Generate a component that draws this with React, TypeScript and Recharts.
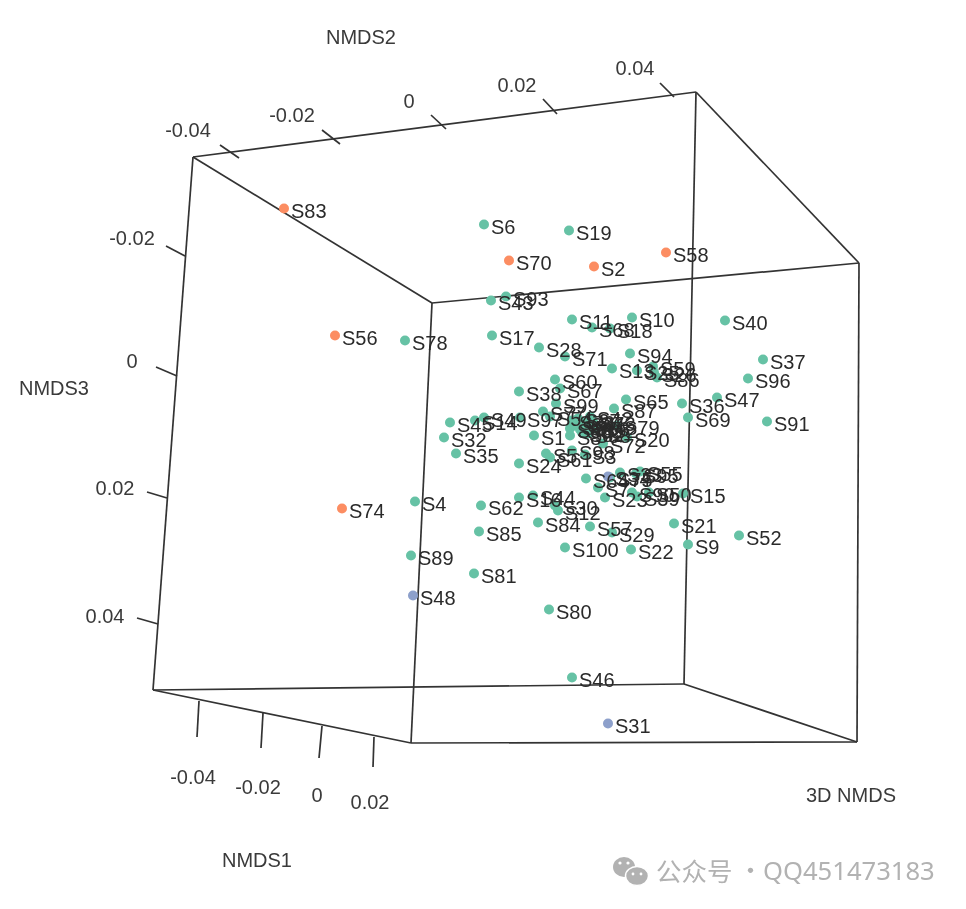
import { ScatterChart, Scatter, XAxis, YAxis, ReferenceLine } from 'recharts';

// projected positions of the 3D NMDS ordination
const TEAL_NAMES = ['S6','S19','S43','S93','S11','S10','S68','S18','S40','S17','S78','S28','S71','S94','S13','S25','S59','S26','S86','S37','S96','S60','S38','S67','S47','S65','S36','S87','S69','S91','S45','S14','S49','S97','S32','S35','S1','S24','S20','S79','S72','S99','S77','S54','S53','S8','S5','S61','S98','S3','S64','S7','S23','S33','S55','S95','S90','S39','S50','S15','S4','S62','S16','S44','S30','S12','S84','S85','S57','S29','S100','S22','S21','S9','S52','S89','S81','S80','S46','S27','S41','S42','S51','S63','S66','S73','S76','S82','S88','S92','S75'];
const TEAL_X = [484,569,491,506,572,632,592,610,725,492,405,539,565,630,612,637,653,654,657,763,748,555,519,560,717,626,682,614,688,767,450,475,484,520,444,456,534,519,627,617,603,556,543,550,570,570,546,550,572,585,586,598,605,620,640,636,632,637,649,683,415,481,519,533,555,558,538,479,590,612,565,631,674,688,739,411,474,549,572,578,584,590,575,580,587,593,572,582,588,595,610];
const TEAL_Y = [224,230,300,296,319,317,327,328,320,335,340,347,356,353,368,370,366,372,377,359,378,379,391,388,397,399,403,408,417,421,422,420,417,417,437,453,435,463,437,425,443,403,411,416,428,435,453,457,450,454,478,487,497,472,471,473,492,496,492,493,501,505,497,495,505,510,522,531,526,532,547,549,523,544,535,555,573,609,677,418,422,416,425,429,426,421,420,432,433,428,477];

const ORANGE_NAMES = ['S83','S70','S2','S58','S56','S74'];
const ORANGE_X = [284,509,594,666,335,342];
const ORANGE_Y = [208,260,266,252,335,508];

const BLUE_NAMES = ['S48','S31','S34'];
const BLUE_X = [413,608,608];
const BLUE_Y = [595,723,476];

const BOX_CORNERS: Record<string, [number, number]> = {
  A: [193,157], B: [696,92], C: [859,263], D: [432,303],
  E: [153,690], F: [411,743], G: [857,742], H: [684,684],
};
const BOX_EDGES = ['AB','AD','BC','DC','AE','DF','CG','BH','EF','FG','HG','EH'];

const TICK_SEGMENTS = [
  [220,145,239,158],[322,130,340,144],[431,115,446,129],[543,99,557,114],[660,83,674,97],
  [166,246,185,256],[156,367,177,376],[147,492,167,498],[137,618,158,624],
  [199,701,197,737],[263,713,261,748],[322,726,319,758],[374,737,373,767],
];
const AXIS_TEXT = ['-0.04','-0.02','0','0.02','0.04','-0.02','0','0.02','0.04','-0.04','-0.02','0','0.02','NMDS1','NMDS2','NMDS3','3D NMDS'];
const AXIS_TEXT_X = [188,292,409,517,635,132,132,115,105,193,258,317,370,257,361,54,851];
const AXIS_TEXT_Y = [130,115,101,85,68,238,361,488,616,777,787,795,802,860,37,388,795];

const toPoints = (names: string[], xs: number[], ys: number[]) =>
  names.map((name, i) => ({ name, x: xs[i], y: ys[i] }));

const teal = toPoints(TEAL_NAMES, TEAL_X, TEAL_Y);
const orange = toPoints(ORANGE_NAMES, ORANGE_X, ORANGE_Y);
const blue = toPoints(BLUE_NAMES, BLUE_X, BLUE_Y);
const axisText = toPoints(AXIS_TEXT, AXIS_TEXT_X, AXIS_TEXT_Y);

const FONT = '"Liberation Sans", Arial, sans-serif';
const LINE = '#333';

const dot = (fill: string) => (props: any) => (
  <circle cx={props.cx} cy={props.cy + 0.5} r={5} fill={fill} />
);

const PointLabel = (props: any) => (
  <text x={props.cx + 7} y={props.cy + 10} fontSize={20} fontFamily={FONT} fill="#2a2a2a">
    {props.payload.name}
  </text>
);

const AxisLabel = (props: any) => (
  <text x={props.cx} y={props.cy + 7} fontSize={20} fontFamily={FONT} fill="#3a3a3a" textAnchor="middle">
    {props.payload.name}
  </text>
);

function Watermark() {
  return (
    <svg width={966} height={909} style={{ position: 'absolute', left: 0, top: 0 }}>
      <ellipse cx={624} cy={867} rx={11} ry={10} fill="#b2b2b2" />
      <ellipse cx={637} cy={876} rx={11.5} ry={9.5} fill="#b2b2b2" stroke="#fff" strokeWidth={1.5} />
      <circle cx={620} cy={863} r={1.6} fill="#fff" />
      <circle cx={628} cy={863} r={1.6} fill="#fff" />
      <circle cx={633} cy={874} r={1.4} fill="#fff" />
      <circle cx={641} cy={874} r={1.4} fill="#fff" />
      <text x={656} y={881} fontSize={25.5} fontFamily='"Noto Sans CJK SC"' fill="#b2b2b2">公众号</text>
      <text x={738} y={880} fontSize={25} fontFamily='"Noto Sans CJK SC"' fill="#b2b2b2">·</text>
      <text x={763} y={880} fontSize={25.6} fontFamily='"Noto Sans", sans-serif' fill="#b2b2b2">QQ451473183</text>
    </svg>
  );
}

export default function App() {
  return (
    <div style={{ position: 'absolute', left: 0, top: 0, width: 966, height: 909, background: '#fff', filter: 'blur(0.35px)' }}>
      <ScatterChart width={966} height={909} margin={{ top: 0, right: 0, bottom: 0, left: 0 }}>
        <XAxis type="number" dataKey="x" domain={[0, 966]} hide />
        <YAxis type="number" dataKey="y" domain={[0, 909]} reversed hide />
        {BOX_EDGES.map((edge) => {
          const a = BOX_CORNERS[edge[0]];
          const b = BOX_CORNERS[edge[1]];
          return (
            <ReferenceLine
              key={edge}
              segment={[{ x: a[0], y: a[1] }, { x: b[0], y: b[1] }]}
              stroke={LINE}
              strokeWidth={1.7}
            />
          );
        })}
        {TICK_SEGMENTS.map((t, i) => (
          <ReferenceLine
            key={`tick-${i}`}
            segment={[{ x: t[0], y: t[1] }, { x: t[2], y: t[3] }]}
            stroke={LINE}
            strokeWidth={1.7}
          />
        ))}
        <Scatter data={teal} shape={dot('#66c2a5')} isAnimationActive={false} />
        <Scatter data={orange} shape={dot('#fc8d62')} isAnimationActive={false} />
        <Scatter data={blue} shape={dot('#8da0cb')} isAnimationActive={false} />
        <Scatter data={teal} shape={PointLabel} isAnimationActive={false} />
        <Scatter data={orange} shape={PointLabel} isAnimationActive={false} />
        <Scatter data={blue} shape={PointLabel} isAnimationActive={false} />
        <Scatter data={axisText} shape={AxisLabel} isAnimationActive={false} />
      </ScatterChart>
      <Watermark />
    </div>
  );
}
